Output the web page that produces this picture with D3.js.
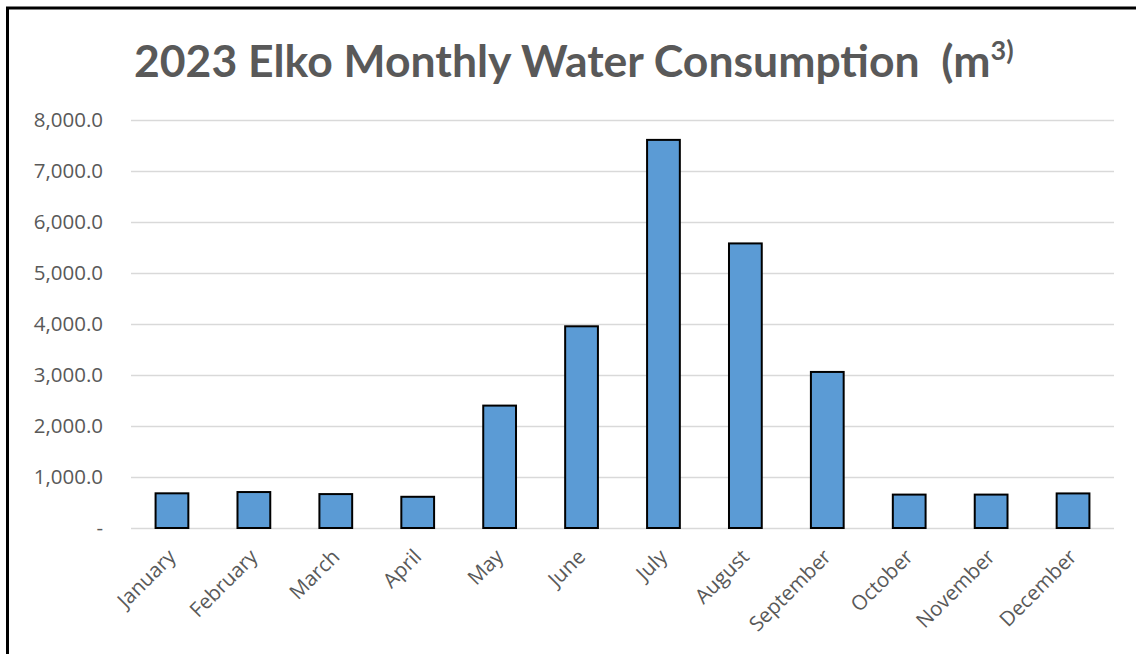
<!DOCTYPE html>
<html>
<head>
<meta charset="utf-8">
<script src="https://cdn.jsdelivr.net/npm/d3@7"></script>
<style>
	body { margin: 0; background: #fff; }
	svg { display: block; }
</style>
</head>
<body>
<svg id="chart" width="1136" height="654"></svg>
<script>
// Monthly water use (m3)
const months = ["January", "February", "March", "April", "May", "June",
	"July", "August", "September", "October", "November", "December"]
const consumption = [680, 705, 665, 612, 2400, 3955, 7610, 5580, 3060, 655, 655, 678]
const yTicks = [0, 1000, 2000, 3000, 4000, 5000, 6000, 7000, 8000]

const svg = d3.select("#chart")
const margin = { left: 131, right: 1114, top: 120, bottom: 528 }
const textColour = "#595959"
const font = "'Open Sans', 'Liberation Sans', sans-serif"

// Outer frame, runs off the right and bottom edges
svg.append("rect")
	.attr("x", 7.5)
	.attr("y", 8)
	.attr("width", 1200)
	.attr("height", 700)
	.attr("fill", "none")
	.attr("stroke", "#000")
	.attr("stroke-width", 3)

const x = d3.scaleBand()
	.domain(months)
	.range([margin.left, margin.right])
	.paddingInner(0.6)
	.paddingOuter(0.3)

const y = d3.scaleLinear()
	.domain([0, 8000])
	.range([margin.bottom, margin.top])

// Gridlines + y labels
const yAxis = d3.axisLeft(y)
	.tickValues(yTicks)
	.tickSize(-(margin.right - margin.left))
	.tickPadding(28)
	.tickFormat(d => d === 0 ? "-" : d3.format(",.1f")(d))

svg.append("g")
	.attr("transform", `translate(${margin.left},0)`)
	.call(yAxis)
	.call(g => g.select(".domain").remove())
	.call(g => g.selectAll(".tick line")
		.attr("stroke", "#d9d9d9")
		.attr("stroke-width", 1.5))
	.call(g => g.selectAll(".tick text")
		.attr("fill", textColour)
		.style("font-family", font)
		.style("font-size", "20.5px"))

// Bars
svg.append("g")
	.selectAll("rect")
	.data(months)
	.join("rect")
	.attr("x", d => x(d))
	.attr("width", x.bandwidth())
	.attr("y", (d, i) => y(consumption[i]))
	.attr("height", (d, i) => y(0) - y(consumption[i]))
	.attr("fill", "#5b9bd5")
	.attr("stroke", "#000")
	.attr("stroke-width", 2)

// Month labels, turned 45 degrees
svg.append("g")
	.selectAll("text")
	.data(months)
	.join("text")
	.attr("transform", d => `translate(${x(d) + x.bandwidth() / 2 + 5},${margin.bottom + 30}) rotate(-45)`)
	.attr("text-anchor", "end")
	.attr("fill", textColour)
	.style("font-family", font)
	.style("font-size", "20.5px")
	.text(d => d)

// Title with superscript unit
const title = svg.append("text")
	.attr("x", 134)
	.attr("y", 77)
	.attr("fill", textColour)
	.style("font-family", "Lato, 'Open Sans', sans-serif")
	.style("font-weight", "bold")
	.style("font-size", "44.5px")
title.append("tspan").text("2023 Elko Monthly Water Consumption\u00a0\u00a0(m")
title.append("tspan")
	.attr("dy", -17)
	.style("font-size", "27px")
	.text("3)")
</script>
</body>
</html>
